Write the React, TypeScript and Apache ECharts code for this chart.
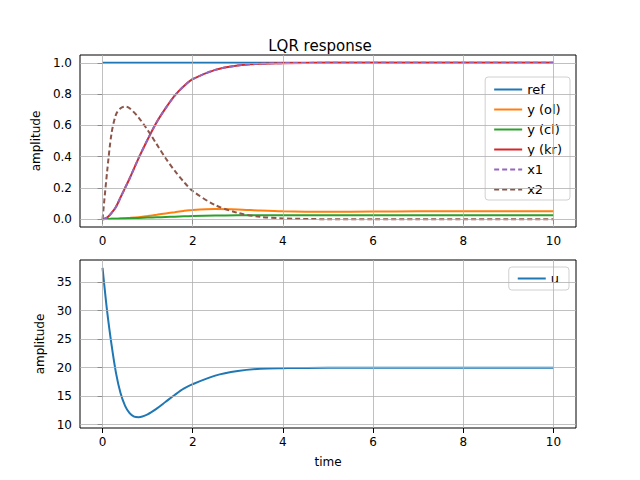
import React, { useRef, useEffect } from 'react';
import * as echarts from 'echarts';

const timeTop = [0, 0.1, 0.2, 0.3, 0.4, 0.5, 0.6, 0.8, 1.0, 1.2, 1.4, 1.6, 1.8, 2, 2.5, 3, 3.5, 4, 5, 6, 7, 8, 9, 10];
const refVals = [1, 1, 1, 1, 1, 1, 1, 1, 1, 1, 1, 1, 1, 1, 1, 1, 1, 1, 1, 1, 1, 1, 1, 1];
const yOl = [0, 0.001, 0.002, 0.003, 0.004, 0.006, 0.008, 0.013, 0.02, 0.028, 0.037, 0.045, 0.053, 0.059, 0.065, 0.062, 0.055, 0.05, 0.047, 0.049, 0.05, 0.05, 0.05, 0.05];
const yCl = [0, 0.001, 0.002, 0.003, 0.004, 0.005, 0.006, 0.008, 0.01, 0.012, 0.014, 0.016, 0.018, 0.02, 0.023, 0.025, 0.025, 0.025, 0.025, 0.025, 0.025, 0.025, 0.025, 0.025];
const x1 = [0, 0.01, 0.04, 0.08, 0.14, 0.2, 0.26, 0.39, 0.51, 0.62, 0.71, 0.79, 0.85, 0.895, 0.955, 0.983, 0.994, 0.998, 1, 1, 1, 1, 1, 1];
const x2 = [0, 0.3, 0.55, 0.67, 0.71, 0.72, 0.71, 0.65, 0.57, 0.48, 0.39, 0.31, 0.24, 0.18, 0.09, 0.04, 0.015, 0.005, 0, 0, 0, 0, 0, 0];

const timeBottom = [0, 0.1, 0.2, 0.3, 0.4, 0.5, 0.6, 0.7, 0.8, 1.0, 1.2, 1.4, 1.6, 1.8, 2, 2.5, 3, 3.5, 4, 5, 6, 7, 8, 9, 10];
const uVals = [37.5, 30, 24, 19, 15.5, 13.3, 12, 11.4, 11.3, 11.8, 12.8, 14, 15.2, 16.3, 17.1, 18.6, 19.4, 19.8, 19.9, 20, 20, 20, 20, 20, 20];

const xTicks = [0, 2, 4, 6, 8, 10];
const yTicksTop = [0, 0.2, 0.4, 0.6, 0.8, 1.0];
const yTicksBottom = [10, 15, 20, 25, 30, 35];

const colors = ['#1f77b4', '#ff7f0e', '#2ca02c', '#d62728', '#9467bd', '#8c564b'];
const font = 'DejaVu Sans';
const gridLine = { color: '#b0b0b0', width: 0.8, type: 'solid' as const };

const zip = (t: number[], v: number[]) => t.map((x, i) => [x, v[i]]);

function gridMarks(yTicks: number[]) {
  return {
    silent: true,
    symbol: 'none',
    label: { show: false },
    lineStyle: gridLine,
    data: [...xTicks.map(v => ({ xAxis: v })), ...yTicks.map(v => ({ yAxis: v }))],
  };
}

const legendBase = {
  orient: 'vertical' as const,
  itemWidth: 28,
  itemHeight: 10,
  itemStyle: { opacity: 0 },
  backgroundColor: 'rgba(255,255,255,0.8)',
  borderColor: '#d0d0d0',
  borderWidth: 1,
  borderRadius: 3,
  textStyle: { fontFamily: font, fontSize: 13, color: '#000' },
};

const App: React.FC = () => {
  const ref = useRef<HTMLDivElement>(null);

  useEffect(() => {
    if (!ref.current) return;
    const chart = echarts.init(ref.current, null, { renderer: 'svg' });
    const xAxisBase = (gi: number) => ({
      type: 'value' as const,
      gridIndex: gi,
      min: -0.5,
      max: 10.5,
      splitLine: { show: false },
      axisLine: { show: false },
      axisTick: { show: true, customValues: xTicks, lineStyle: { color: '#000' } },
      axisLabel: { customValues: xTicks, color: '#000', fontFamily: font, fontSize: 12 },
    });
    const lineSeries = (name: string, data: number[][], color: string, dashed = false, axis = 0) => ({
      name,
      type: 'line',
      xAxisIndex: axis,
      yAxisIndex: axis,
      data,
      smooth: 0.3,
      symbol: 'none',
      color,
      lineStyle: { width: 2, color, type: dashed ? [5, 3] : 'solid' },
    });

    chart.setOption({
      animation: false,
      title: {
        text: 'LQR response',
        left: 'center',
        top: 33,
        textStyle: { fontFamily: font, fontSize: 15, fontWeight: 'normal', color: '#000' },
      },
      grid: [
        { left: 80, right: 64, top: 55, height: 172, show: true, borderColor: '#000', borderWidth: 1 },
        { left: 80, right: 64, top: 260, height: 168, show: true, borderColor: '#000', borderWidth: 1 },
      ],
      legend: [
        {
          ...legendBase,
          data: ['ref', 'y (ol)', 'y (cl)', 'y (kr)', 'x1', 'x2'],
          right: 70,
          top: 77,
          itemGap: 7,
          padding: [6, 8, 4, 8],
        },
        {
          ...legendBase,
          data: ['u'],
          right: 71,
          top: 267,
          padding: [5, 10, 5, 8],
        },
      ],
      xAxis: [
        xAxisBase(0),
        {
          ...xAxisBase(1),
          name: 'time',
          nameLocation: 'middle',
          nameGap: 28,
          nameTextStyle: { fontFamily: font, fontSize: 12, color: '#000' },
        },
      ],
      yAxis: [
        {
          type: 'value',
          gridIndex: 0,
          min: -0.05,
          max: 1.05,
          splitLine: { show: false },
          axisLine: { show: false },
          axisTick: { show: true, customValues: yTicksTop, lineStyle: { color: '#000' } },
          axisLabel: {
            customValues: yTicksTop,
            formatter: (v: number) => v.toFixed(1),
            color: '#000',
            fontFamily: font,
            fontSize: 12,
          },
          name: 'amplitude',
          nameLocation: 'middle',
          nameGap: 38,
          nameTextStyle: { fontFamily: font, fontSize: 12, color: '#000' },
        },
        {
          type: 'value',
          gridIndex: 1,
          min: 9.4,
          max: 38.9,
          splitLine: { show: false },
          axisLine: { show: false },
          axisTick: { show: true, customValues: yTicksBottom, lineStyle: { color: '#000' } },
          axisLabel: { customValues: yTicksBottom, color: '#000', fontFamily: font, fontSize: 12 },
          name: 'amplitude',
          nameLocation: 'middle',
          nameGap: 32,
          nameTextStyle: { fontFamily: font, fontSize: 12, color: '#000' },
        },
      ],
      series: [
        { ...lineSeries('ref', zip(timeTop, refVals), colors[0]), markLine: gridMarks(yTicksTop), z: 2 },
        lineSeries('y (ol)', zip(timeTop, yOl), colors[1]),
        lineSeries('y (cl)', zip(timeTop, yCl), colors[2]),
        lineSeries('y (kr)', zip(timeTop, x1), colors[3]),
        lineSeries('x1', zip(timeTop, x1), colors[4], true),
        lineSeries('x2', zip(timeTop, x2), colors[5], true),
        { ...lineSeries('u', zip(timeBottom, uVals), colors[0], false, 1), markLine: gridMarks(yTicksBottom) },
      ],
    });
    return () => chart.dispose();
  }, []);

  return <div ref={ref} style={{ width: 640, height: 480, margin: -8 }} />;
};

export default App;
